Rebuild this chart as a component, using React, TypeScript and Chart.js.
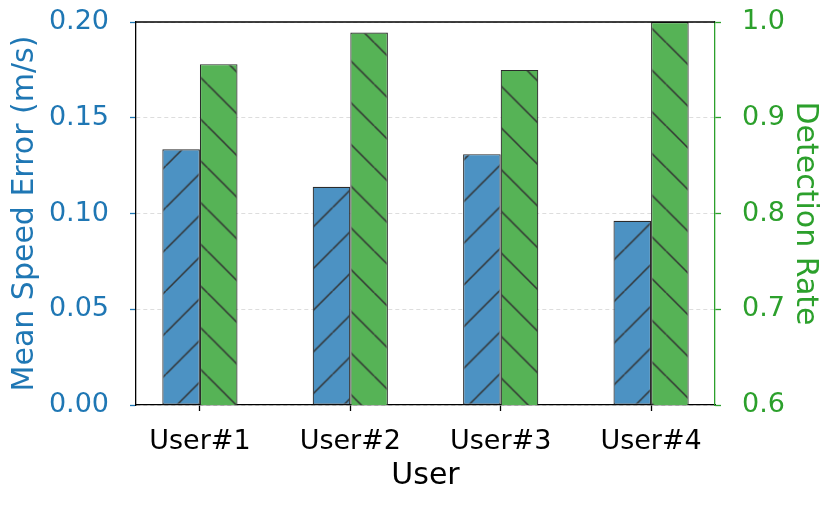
import React, { useRef, useEffect } from 'react';
import { Chart, registerables } from 'chart.js';

Chart.register(...registerables);

const users = ['User#1', 'User#2', 'User#3', 'User#4'];
const speedError = [0.1335, 0.114, 0.131, 0.0962];
const detectionRate = [0.956, 0.989, 0.95, 1.0];
const errorTicks = [0, 0.05, 0.1, 0.15, 0.2];
const rateTicks = [0.6, 0.7, 0.8, 0.9, 1.0];

const BLUE = '#1f77b4';
const GREEN = '#2ca02c';
const FONT = "'DejaVu Sans', sans-serif";

// matplotlib-like hatch: fill colour plus diagonal lines
function makeHatch(ctx: CanvasRenderingContext2D, fill: string, dir: '/' | '\\', shift: [number, number]) {
  const T = 42;
  const c = document.createElement('canvas');
  c.width = T;
  c.height = T;
  const g = c.getContext('2d')!;
  g.fillStyle = fill;
  g.fillRect(0, 0, T, T);
  g.strokeStyle = '#333333';
  g.lineWidth = 1.5;
  g.beginPath();
  for (const k of [-T, 0, T]) {
    if (dir === '/') {
      g.moveTo(k, T);
      g.lineTo(k + T, 0);
    } else {
      g.moveTo(k, 0);
      g.lineTo(k + T, T);
    }
  }
  g.stroke();
  const p = ctx.createPattern(c, 'repeat')!;
  p.setTransform(new DOMMatrix().translate(shift[0], shift[1]).scale(41.7 / T));
  return p;
}

const topBorder = {
  id: 'topBorder',
  afterDraw(chart: Chart) {
    const { ctx, chartArea } = chart;
    ctx.save();
    ctx.strokeStyle = '#000';
    ctx.lineWidth = 1.3;
    ctx.beginPath();
    ctx.moveTo(chartArea.left, chartArea.top);
    ctx.lineTo(chartArea.right, chartArea.top);
    ctx.stroke();
    ctx.restore();
  },
};

const App: React.FC = () => {
  const canvasRef = useRef<HTMLCanvasElement>(null);

  useEffect(() => {
    if (!canvasRef.current) return;
    const ctx = canvasRef.current.getContext('2d')!;
    const blueHatch = makeHatch(ctx, '#4c92c3', '/', [-1, -1]);
    const greenHatch = makeHatch(ctx, '#56b356', '\\', [-1, 1]);

    const chart = new Chart(canvasRef.current, {
      type: 'bar',
      data: {
        datasets: [
          {
            label: 'Mean Speed Error (m/s)',
            data: speedError.map((v, i) => ({ x: i, y: v })),
            backgroundColor: blueHatch,
            borderColor: '#2b2b2b',
            borderWidth: 1.2,
            borderSkipped: false,
            yAxisID: 'y',
          },
          {
            label: 'Detection Rate',
            data: detectionRate.map((v, i) => ({ x: i, y: v })),
            backgroundColor: greenHatch,
            borderColor: '#2b2b2b',
            borderWidth: 1.2,
            borderSkipped: false,
            yAxisID: 'y1',
          },
        ],
      },
      options: {
        responsive: false,
        animation: false,
        layout: { padding: { top: 22, left: 0, right: 0, bottom: 0 } },
        datasets: { bar: { categoryPercentage: 0.5, barPercentage: 1.0 } },
        plugins: {
          legend: { display: false },
          tooltip: { enabled: false },
        },
        scales: {
          x: {
            type: 'linear',
            min: -0.425,
            max: 3.425,
            offset: false,
            afterBuildTicks: (scale: any) => {
              scale.ticks = users.map((_, i) => ({ value: i }));
            },
            afterFit: (scale: any) => {
              scale.height = 102;
              scale.paddingLeft = 0;
              scale.paddingRight = 0;
            },
            grid: {
              offset: false,
              drawOnChartArea: false,
              tickColor: '#000',
              tickLength: 6,
              tickWidth: 1.3,
            },
            border: { color: '#000', width: 1.3 },
            ticks: {
              padding: 15,
              color: '#000',
              font: { family: FONT, size: 27 },
              maxRotation: 0,
              autoSkip: false,
              callback: (v: any) => users[Number(v)] ?? '',
            },
            title: {
              display: true,
              text: 'User',
              color: '#000',
              font: { family: FONT, size: 30 },
              padding: { top: 0, bottom: 13 },
            },
          },
          y: {
            type: 'linear',
            position: 'left',
            min: 0,
            max: 0.2,
            afterBuildTicks: (scale: any) => {
              scale.ticks = errorTicks.map((v) => ({ value: v }));
            },
            afterFit: (scale: any) => {
              scale.width = 136;
              scale.paddingTop = 0;
              scale.paddingBottom = 0;
            },
            grid: {
              color: '#d4d4d4',
              lineWidth: 0.8,
              tickColor: BLUE,
              tickLength: 6,
              tickWidth: 1.3,
            },
            border: { color: '#000', width: 1.3, dash: [4, 3] },
            ticks: {
              padding: 21,
              color: BLUE,
              font: { family: FONT, size: 27 },
              callback: (v: any) => Number(v).toFixed(2),
            },
            title: {
              display: true,
              text: 'Mean Speed Error (m/s)',
              color: BLUE,
              font: { family: FONT, size: 30 },
              padding: { top: 7, bottom: 0 },
            },
          },
          y1: {
            type: 'linear',
            position: 'right',
            min: 0.6,
            max: 1.0,
            afterBuildTicks: (scale: any) => {
              scale.ticks = rateTicks.map((v) => ({ value: v }));
            },
            afterFit: (scale: any) => {
              scale.width = 116;
              scale.paddingTop = 0;
              scale.paddingBottom = 0;
            },
            grid: {
              drawOnChartArea: false,
              tickColor: GREEN,
              tickLength: 6,
              tickWidth: 1.3,
            },
            border: { color: GREEN, width: 1.3 },
            ticks: {
              padding: 21,
              color: GREEN,
              font: { family: FONT, size: 27 },
              callback: (v: any) => Number(v).toFixed(1),
            },
            title: {
              display: true,
              text: 'Detection Rate',
              color: GREEN,
              font: { family: FONT, size: 30 },
              padding: { top: 8, bottom: 0 },
            },
          },
        },
      },
      plugins: [topBorder],
    });

    return () => chart.destroy();
  }, []);

  return (
    <div style={{ position: 'fixed', left: 0, top: 0, width: 831, height: 507, background: '#fff' }}>
      <canvas ref={canvasRef} width={831} height={507} />
    </div>
  );
};

export default App;
